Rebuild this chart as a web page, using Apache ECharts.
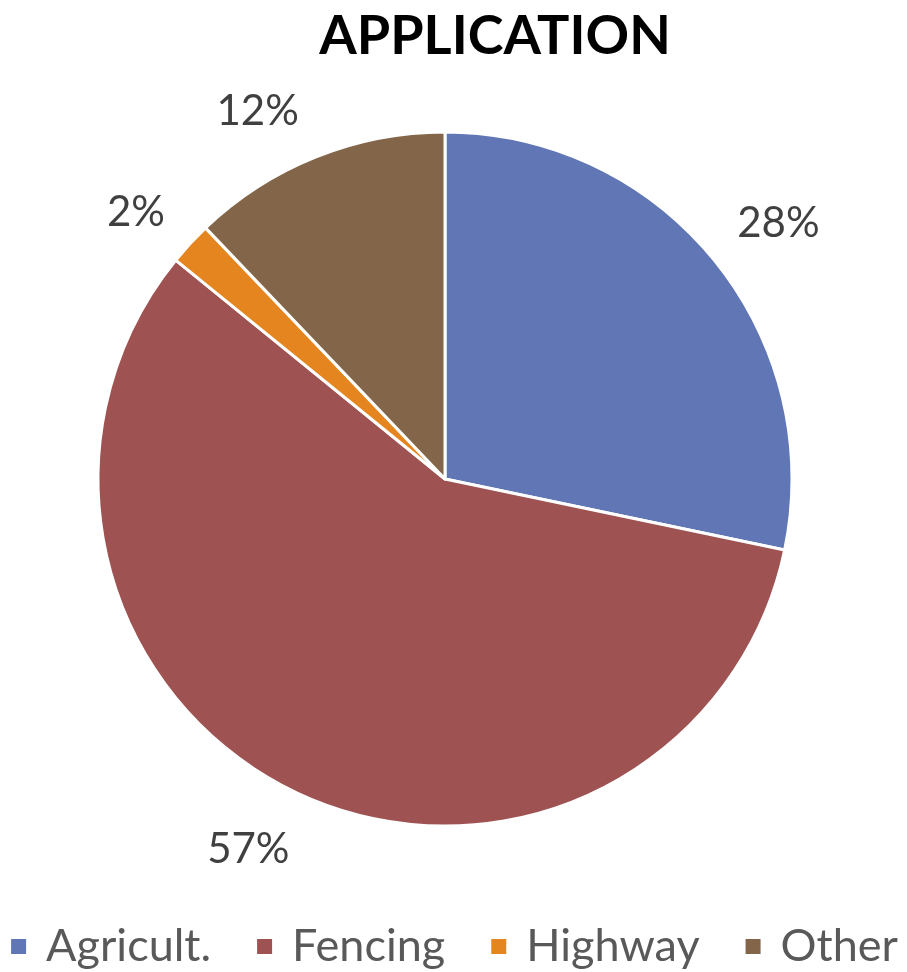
<!DOCTYPE html>
<html>
<head>
<meta charset="utf-8">
<script src="https://cdn.jsdelivr.net/npm/echarts@6/dist/echarts.min.js"></script>
<style>
  html, body { margin: 0; padding: 0; background: #ffffff; }
  #chart { width: 907px; height: 972px; }
</style>
</head>
<body>
<div id="chart"></div>
<script>
// Share of use by application (percent)
const categories = ['Agricult.', 'Fencing', 'Highway', 'Other'];
const shares = [28, 57, 2, 12];
const sliceColors = ['#6076B5', '#9E5252', '#E5851F', '#836649'];
// small nudges [dx, dy] that keep each percentage label clear of its neighbours
const labelNudge = [[9, 8], [-17, -7], [-2, 17], [-32, 21]];

const center = [445, 479];
const chart = echarts.init(document.getElementById('chart'));

chart.setOption({
  animation: false,
  backgroundColor: '#ffffff',
  title: {
    text: 'APPLICATION',
    left: 490,
    top: 5,
    textAlign: 'center',
    textStyle: {
      fontFamily: 'Lato',
      fontWeight: 'bold',
      fontSize: 54,
      color: '#000000'
    }
  },
  legend: {
    top: 919,
    left: 'center',
    icon: 'rect',
    itemWidth: 17,
    itemHeight: 17,
    itemGap: 44,
    selectedMode: false,
    data: categories.map((name, i) => ({ name: name, itemStyle: { color: sliceColors[i] } })),
    textStyle: {
      fontFamily: 'Lato',
      fontSize: 45,
      color: '#595959',
      padding: [0, 0, 0, 14]
    }
  },
  series: [
    {
      type: 'pie',
      center: center,
      radius: 347,
      startAngle: 90,
      clockwise: true,
      silent: true,
      data: categories.map((name, i) => ({
        name: name,
        value: shares[i],
        itemStyle: { color: sliceColors[i] }
      })),
      itemStyle: { borderColor: '#ffffff', borderWidth: 3 },
      label: { show: false },
      labelLine: { show: false }
    },
    {
      // transparent ring that carries the percentage labels just outside the pie
      type: 'pie',
      center: center,
      radius: [395, 435],
      startAngle: 90,
      clockwise: true,
      silent: true,
      data: categories.map((name, i) => ({
        name: name,
        value: shares[i],
        label: { offset: labelNudge[i] }
      })),
      itemStyle: { color: 'rgba(0,0,0,0)' },
      label: {
        show: true,
        position: 'inside',
        formatter: p => p.value + '%',
        fontFamily: 'Lato',
        fontSize: 42,
        color: '#404040'
      },
      labelLine: { show: false }
    }
  ]
});
</script>
</body>
</html>
